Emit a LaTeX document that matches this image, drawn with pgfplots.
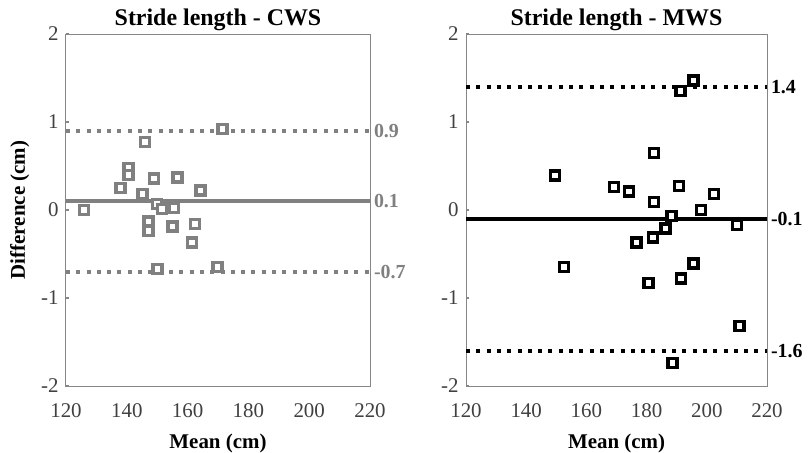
\documentclass[border=0pt]{standalone}
\usepackage{fontspec}
\setmainfont{Liberation Serif}
\usepackage{pgfplots}
\pgfplotsset{compat=1.18}
\definecolor{lgrey}{RGB}{128,128,128}
\definecolor{framec}{RGB}{134,134,134}
\tikzset{lab/.style={font=\fontsize{20}{24}\selectfont\bfseries, anchor=west, inner sep=2bp}}
\pgfplotsset{
  ba/.style={
    scale only axis, width=304bp, height=352bp,
    xmin=120, xmax=220, ymin=-2, ymax=2,
    xtick={120,140,...,220}, ytick={-2,-1,0,1,2},
    axis line style={framec, line width=1bp},
    xtick style={draw=none},
    ytick style={framec, line width=1.5bp},
    major tick length=3bp,
    tick align=inside, tick pos=left,
    clip=false,
    /pgf/number format/assume math mode=true,
    ticklabel style={font=\fontsize{21}{24}\selectfont, text=black!75},
    xticklabel style={yshift=-14bp},
    yticklabel style={xshift=-4bp},
    title style={font=\fontsize{24}{28}\selectfont\bfseries, yshift=-6bp},
    xlabel style={font=\fontsize{21}{24}\selectfont\bfseries, yshift=-10bp},
    ylabel style={font=\fontsize{21}{24}\selectfont\bfseries, yshift=5bp},
    xlabel={Mean (cm)},
  },
  sq/.style={only marks, mark=square*, mark size=4.5bp,
    mark options={line width=3.5bp, fill=white, draw=#1}},
}
\begin{document}
\begin{tikzpicture}
\path[use as bounding box] (-66bp,-67bp) rectangle (745bp,386bp);
\begin{axis}[ba, at={(0bp,0bp)}, anchor=south west,
  title={Stride length - CWS}, ylabel={Difference (cm)}]
\addplot[sq=lgrey] coordinates {
(171.4,0.92) (146.0,0.77) (140.5,0.48) (140.5,0.40) (137.9,0.25)
(148.9,0.36) (156.6,0.37) (164.2,0.22) (145.1,0.18) (126.0,0.00)
(150.0,0.07) (151.5,0.01) (155.5,0.02) (147.1,-0.13) (147.1,-0.24)
(155.1,-0.19) (162.4,-0.16) (161.4,-0.37) (150.1,-0.67) (169.9,-0.65)
};
\addplot[lgrey, line width=4bp, dash pattern=on 4bp off 6.3bp] coordinates {(120,0.9) (220,0.9)}
  node[pos=1, lab, text=lgrey] {0.9};
\addplot[lgrey, line width=4bp] coordinates {(120,0.1) (220,0.1)}
  node[pos=1, lab, text=lgrey] {0.1};
\addplot[lgrey, line width=4bp, dash pattern=on 4bp off 6.3bp] coordinates {(120,-0.7) (220,-0.7)}
  node[pos=1, lab, text=lgrey] {-0.7};
\end{axis}
\begin{axis}[ba, at={(400bp,0bp)}, anchor=south west, width=301bp,
  title={Stride length - MWS}]
\addplot[sq=black] coordinates {
(195.5,1.47) (191.2,1.35) (182.5,0.65) (149.6,0.39) (169.2,0.26)
(174.2,0.21) (190.7,0.27) (202.4,0.18) (182.5,0.09) (198.1,0.00)
(188.2,-0.07) (210.0,-0.17) (186.3,-0.21) (182.2,-0.31) (176.7,-0.37)
(152.6,-0.65) (195.6,-0.61) (191.4,-0.78) (180.6,-0.83) (210.8,-1.32)
(188.6,-1.74)
};
\addplot[black, line width=4bp, dash pattern=on 4bp off 6.3bp] coordinates {(120,1.4) (220,1.4)}
  node[pos=1, lab] {1.4};
\addplot[black, line width=4bp] coordinates {(120,-0.1) (220,-0.1)}
  node[pos=1, lab] {-0.1};
\addplot[black, line width=4bp, dash pattern=on 4bp off 6.3bp] coordinates {(120,-1.6) (220,-1.6)}
  node[pos=1, lab] {-1.6};
\end{axis}
\end{tikzpicture}
\end{document}
